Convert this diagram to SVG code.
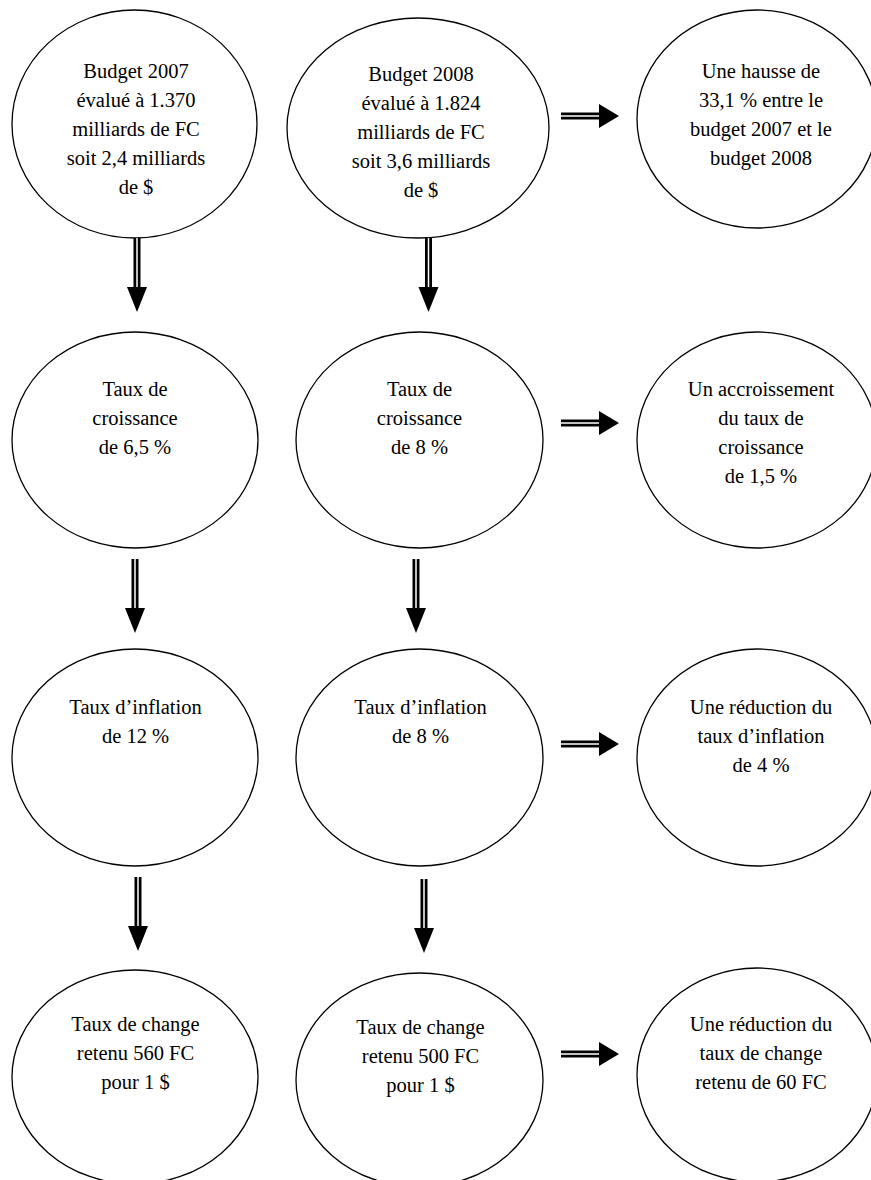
<svg xmlns="http://www.w3.org/2000/svg" xmlns:xlink="http://www.w3.org/1999/xlink" width="871" height="1180" viewBox="0 0 871 1180">
<style>
  .node ellipse { fill: #fff; stroke: #000; stroke-width: 1.3; }
  .node text { font-family: "Liberation Serif", "Times New Roman", serif; font-size: 20.5px; fill: #000; text-anchor: middle; }
</style>
<defs>
  <g id="ad">
    <rect x="-3.5" y="0" width="7" height="50" fill="#000"/>
    <rect x="-0.75" y="0" width="1.5" height="50" fill="#fff"/>
    <path d="M-10,49 L10,49 L0,74 Z" fill="#000"/>
  </g>
  <g id="ar">
    <rect x="0" y="-3.5" width="39" height="7" fill="#000"/>
    <rect x="0" y="-0.75" width="39" height="1.5" fill="#fff"/>
    <path d="M38,-12 L38,12 L58,0 Z" fill="#000"/>
  </g>
</defs>
<rect width="871" height="1180" fill="#fff"/>

<g id="n1" class="node">
  <ellipse cx="134.5" cy="124" rx="122.5" ry="114"/>
  <text x="136" y="78">Budget 2007</text>
  <text x="136" y="107">évalué à 1.370</text>
  <text x="136" y="136">milliards de FC</text>
  <text x="136" y="165">soit 2,4 milliards</text>
  <text x="136" y="194">de $</text>
</g>
<g id="n2" class="node">
  <ellipse cx="418" cy="128" rx="131" ry="110"/>
  <text x="421" y="81">Budget 2008</text>
  <text x="421" y="110">évalué à 1.824</text>
  <text x="421" y="139">milliards de FC</text>
  <text x="421" y="168">soit 3,6 milliards</text>
  <text x="421" y="197">de $</text>
</g>
<g id="n3" class="node">
  <ellipse cx="757" cy="119" rx="120" ry="109"/>
  <text x="761" y="78">Une hausse de</text>
  <text x="761" y="107">33,1 % entre le</text>
  <text x="761" y="136">budget 2007 et le</text>
  <text x="761" y="165">budget 2008</text>
</g>

<g id="n4" class="node">
  <ellipse cx="135" cy="440" rx="123" ry="108"/>
  <text x="135" y="396">Taux de</text>
  <text x="135" y="425">croissance</text>
  <text x="135" y="454">de 6,5 %</text>
</g>
<g id="n5" class="node">
  <ellipse cx="419.5" cy="440" rx="123.5" ry="108"/>
  <text x="419.5" y="396">Taux de</text>
  <text x="419.5" y="425">croissance</text>
  <text x="419.5" y="454">de 8 %</text>
</g>
<g id="n6" class="node">
  <ellipse cx="757" cy="440" rx="120" ry="108"/>
  <text x="761" y="396">Un accroissement</text>
  <text x="761" y="425">du taux de</text>
  <text x="761" y="454">croissance</text>
  <text x="761" y="483">de 1,5 %</text>
</g>

<g id="n7" class="node">
  <ellipse cx="135" cy="757.5" rx="123" ry="108.5"/>
  <text x="135.5" y="714">Taux d’inflation</text>
  <text x="135.5" y="743">de 12 %</text>
</g>
<g id="n8" class="node">
  <ellipse cx="419.5" cy="757.5" rx="123.5" ry="108.5"/>
  <text x="420.5" y="714">Taux d’inflation</text>
  <text x="420.5" y="743">de 8 %</text>
</g>
<g id="n9" class="node">
  <ellipse cx="757" cy="757.5" rx="120" ry="108.5"/>
  <text x="761" y="714">Une réduction du</text>
  <text x="761" y="743">taux d’inflation</text>
  <text x="761" y="772">de 4 %</text>
</g>

<g id="n10" class="node">
  <ellipse cx="135" cy="1077" rx="123" ry="107"/>
  <text x="135.5" y="1031">Taux de change</text>
  <text x="135.5" y="1060">retenu 560 FC</text>
  <text x="135.5" y="1089">pour 1 $</text>
</g>
<g id="n11" class="node">
  <ellipse cx="419.5" cy="1080" rx="123.5" ry="107"/>
  <text x="420.5" y="1034">Taux de change</text>
  <text x="420.5" y="1063">retenu 500 FC</text>
  <text x="420.5" y="1092">pour 1 $</text>
</g>
<g id="n12" class="node">
  <ellipse cx="757" cy="1075" rx="120" ry="107"/>
  <text x="761" y="1031">Une réduction du</text>
  <text x="761" y="1060">taux de change</text>
  <text x="761" y="1089">retenu de 60 FC</text>
</g>

<g id="connectors">
  <use xlink:href="#ad" x="137" y="238"/>
  <use xlink:href="#ad" x="428.5" y="238"/>
  <use xlink:href="#ad" x="135" y="559"/>
  <use xlink:href="#ad" x="416" y="559"/>
  <use xlink:href="#ad" x="138" y="877"/>
  <use xlink:href="#ad" x="424" y="879"/>
  <use xlink:href="#ar" x="561" y="116"/>
  <use xlink:href="#ar" x="561" y="423"/>
  <use xlink:href="#ar" x="561" y="744"/>
  <use xlink:href="#ar" x="561" y="1054"/>
</g>
</svg>
